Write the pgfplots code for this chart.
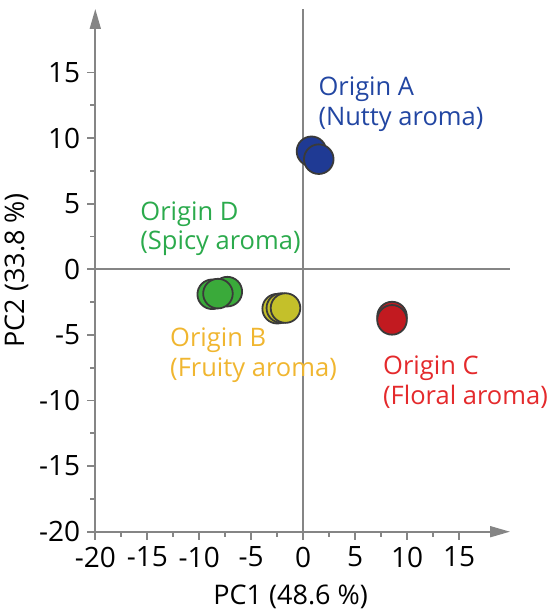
\documentclass[border=0pt]{standalone}
\usepackage{fontspec}
\setmainfont{Open Sans}
\usepackage{pgfplots}
\pgfplotsset{compat=1.18}
\usetikzlibrary{arrows.meta}

\definecolor{axgray}{HTML}{858585}
\definecolor{rim}{HTML}{3A3A3A}
\definecolor{fillA}{HTML}{1F3A94}
\definecolor{fillB}{HTML}{C4C02A}
\definecolor{fillC}{HTML}{C21A20}
\definecolor{fillD}{HTML}{3AAA3A}
\definecolor{txtA}{HTML}{2246A2}
\definecolor{txtB}{HTML}{F0B630}
\definecolor{txtC}{HTML}{E42A2C}
\definecolor{txtD}{HTML}{2BAA4C}

% PCA scores, one table per origin
\pgfplotstableread{
x y
0.8 9.0
1.5 8.4
}\originA
\pgfplotstableread{
x y
-2.5 -3.0
-2.1 -2.95
-1.7 -2.95
}\originB
\pgfplotstableread{
x y
8.55 -3.6
8.55 -3.85
}\originC
\pgfplotstableread{
x y
-7.3 -1.7
-8.75 -1.9
-8.2 -1.85
}\originD

\begin{document}
\begin{tikzpicture}
\begin{axis}[
  scale only axis,
  width=207.35pt, height=261.35pt,
  xmin=-20, xmax=19.9, ymin=-20, ymax=19.85,
  axis lines=left,
  axis line style={axgray, line width=0.9pt, -{Triangle[length=10pt,width=5.5pt]}},
  every tick/.style={axgray, line width=0.9pt},
  tick align=outside,
  major tick length=4pt,
  minor tick length=2.5pt,
  minor tick num=1,
  xtick={-20,-15,...,15},
  xticklabels={-20,-15,-10,-5,0,5,10,15},
  ytick={-20,-15,...,15},
  yticklabels={-20,-15,-10,-5,0,5,10,15},
  tick label style={font=\fontsize{14}{16}\selectfont, black},
  xlabel={PC1 (48.6 \%)},
  ylabel={PC2 (33.8 \%)},
  label style={font=\fontsize{13.5}{16}\selectfont, black},
  xlabel style={xshift=-6pt, yshift=-2pt},
  ylabel style={yshift=-1.5pt},
  clip=false,
]
% zero reference lines
\addplot[axgray, line width=0.9pt] coordinates {(0,-20) (0,19.85)};
\addplot[axgray, line width=0.9pt] coordinates {(-20,0) (19.9,0)};

\addplot[only marks, mark=*, mark size=7.4pt, mark options={draw=rim, line width=0.9pt, fill=fillA}] table {\originA};
\addplot[only marks, mark=*, mark size=7.4pt, mark options={draw=rim, line width=0.9pt, fill=fillB}] table {\originB};
\addplot[only marks, mark=*, mark size=7.4pt, mark options={draw=rim, line width=0.9pt, fill=fillC}] table {\originC};
\addplot[only marks, mark=*, mark size=7.4pt, mark options={draw=rim, line width=0.9pt, fill=fillD}] table {\originD};

\begin{scope}[every node/.style={anchor=base west, inner sep=0pt, font=\fontsize{12.75}{15}\selectfont}]
\node[txtA] at (axis cs:1.44,13.22) {Origin A};
\node[txtA] at (axis cs:1.44,10.93) {(Nutty aroma)};
\node[txtD] at (axis cs:-15.7,3.69) {Origin D};
\node[txtD] at (axis cs:-15.7,1.48) {(Spicy aroma)};
\node[txtB] at (axis cs:-12.83,-5.87) {Origin B};
\node[txtB] at (axis cs:-12.83,-8.16) {(Fruity aroma)};
\node[txtC] at (axis cs:7.66,-8.04) {Origin C};
\node[txtC] at (axis cs:7.66,-10.33) {(Floral aroma)};
\end{scope}
\end{axis}
\pgfresetboundingbox
\path[use as bounding box] (-47.65pt,-40.65pt) rectangle (227.35pt,265.85pt);
\end{tikzpicture}
\end{document}
